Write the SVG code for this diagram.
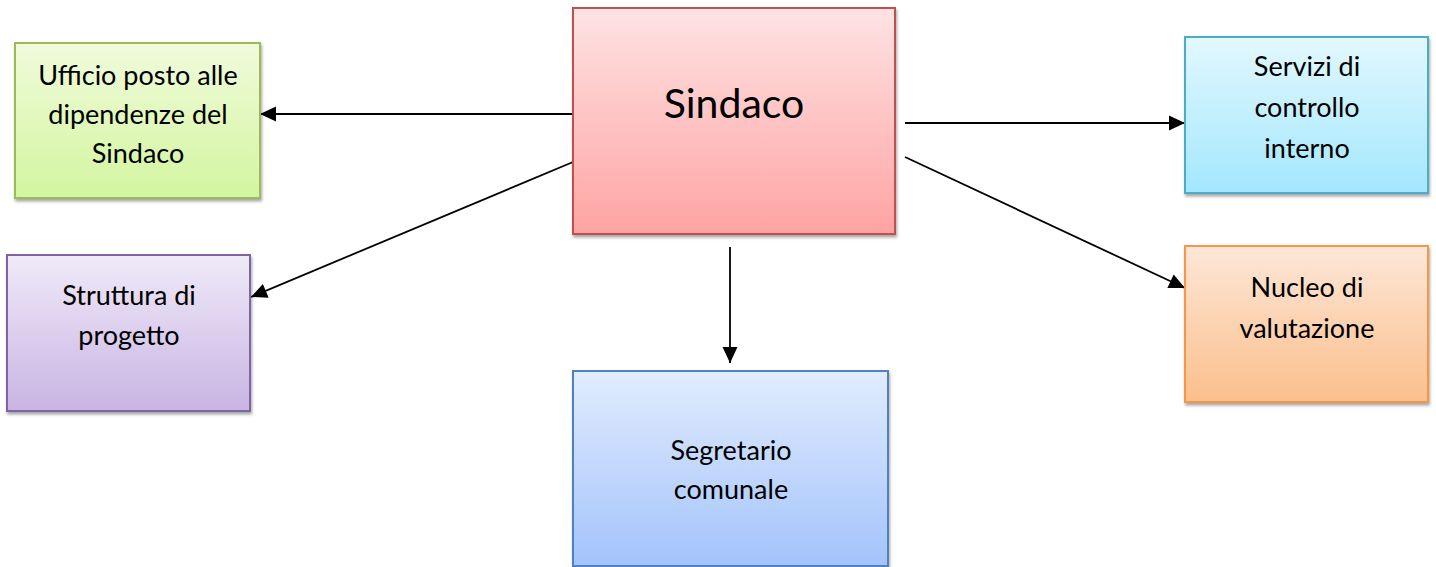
<svg xmlns="http://www.w3.org/2000/svg" width="1436" height="567" viewBox="0 0 1436 567">
<style>
  .box { stroke-width: 2; filter: url(#shadow); }
  .lbl { font-family: Lato, "Liberation Sans", sans-serif; font-size: 27px; fill: #000; text-anchor: middle; }
  .big { font-size: 41px; }
  .conn line { stroke: #000; stroke-width: 1.8; fill: none; marker-end: url(#arrow); }
</style>
<defs>
  <filter id="shadow" x="-10%" y="-10%" width="130%" height="130%">
    <feDropShadow dx="1" dy="2.5" stdDeviation="1.5" flood-color="#000" flood-opacity="0.35"/>
  </filter>
  <marker id="arrow" viewBox="0 0 16 15" refX="16" refY="7.5" markerWidth="16" markerHeight="15" markerUnits="userSpaceOnUse" orient="auto" overflow="visible">
    <path d="M0,0 L16,7.5 L0,15 Z" fill="#000"/>
  </marker>
  <linearGradient id="gGreen" x1="0" y1="0" x2="0" y2="1"><stop offset="0" stop-color="#f0fbdb"/><stop offset="1" stop-color="#d3f59f"/></linearGradient>
  <linearGradient id="gRed" x1="0" y1="0" x2="0" y2="1"><stop offset="0" stop-color="#fee3e3"/><stop offset="1" stop-color="#ffa3a3"/></linearGradient>
  <linearGradient id="gCyan" x1="0" y1="0" x2="0" y2="1"><stop offset="0" stop-color="#e2f8fe"/><stop offset="1" stop-color="#a3e7fd"/></linearGradient>
  <linearGradient id="gOrange" x1="0" y1="0" x2="0" y2="1"><stop offset="0" stop-color="#fde7d8"/><stop offset="1" stop-color="#fbbf8c"/></linearGradient>
  <linearGradient id="gPurple" x1="0" y1="0" x2="0" y2="1"><stop offset="0" stop-color="#efeaf8"/><stop offset="1" stop-color="#c9b4e3"/></linearGradient>
  <linearGradient id="gBlue" x1="0" y1="0" x2="0" y2="1"><stop offset="0" stop-color="#e1ecfe"/><stop offset="1" stop-color="#a3c3fb"/></linearGradient>
</defs>
<rect width="1436" height="567" fill="#fff"/>

<g class="conn" id="connectors">
  <line x1="573" y1="114" x2="260" y2="114"/>
  <line x1="573" y1="162" x2="251" y2="297"/>
  <line x1="730" y1="247" x2="730" y2="363"/>
  <line x1="905" y1="123" x2="1185" y2="123"/>
  <line x1="905" y1="157" x2="1185" y2="288"/>
</g>

<g id="node-sindaco">
  <rect class="box" x="573" y="8" width="322" height="226" fill="url(#gRed)" stroke="#c0504d"/>
  <text class="lbl big" x="734" y="118">Sindaco</text>
</g>

<g id="node-ufficio">
  <rect class="box" x="15" y="43" width="245" height="155" fill="url(#gGreen)" stroke="#9bbb59"/>
  <text class="lbl" x="138" y="85">Ufficio posto alle</text>
  <text class="lbl" x="138" y="124">dipendenze del</text>
  <text class="lbl" x="138" y="163">Sindaco</text>
</g>

<g id="node-struttura">
  <rect class="box" x="7" y="255" width="243" height="156" fill="url(#gPurple)" stroke="#8064a2"/>
  <text class="lbl" x="129" y="305">Struttura di</text>
  <text class="lbl" x="129" y="345">progetto</text>
</g>

<g id="node-segretario">
  <rect class="box" x="573" y="371" width="315" height="195" fill="url(#gBlue)" stroke="#4f81bd"/>
  <text class="lbl" x="731" y="460">Segretario</text>
  <text class="lbl" x="731" y="499">comunale</text>
</g>

<g id="node-servizi">
  <rect class="box" x="1185" y="37" width="243" height="156" fill="url(#gCyan)" stroke="#4bacc6"/>
  <text class="lbl" x="1307" y="76">Servizi di</text>
  <text class="lbl" x="1307" y="117">controllo</text>
  <text class="lbl" x="1307" y="158">interno</text>
</g>

<g id="node-nucleo">
  <rect class="box" x="1185" y="246" width="243" height="156" fill="url(#gOrange)" stroke="#f79646"/>
  <text class="lbl" x="1307" y="297">Nucleo di</text>
  <text class="lbl" x="1307" y="338">valutazione</text>
</g>
</svg>
